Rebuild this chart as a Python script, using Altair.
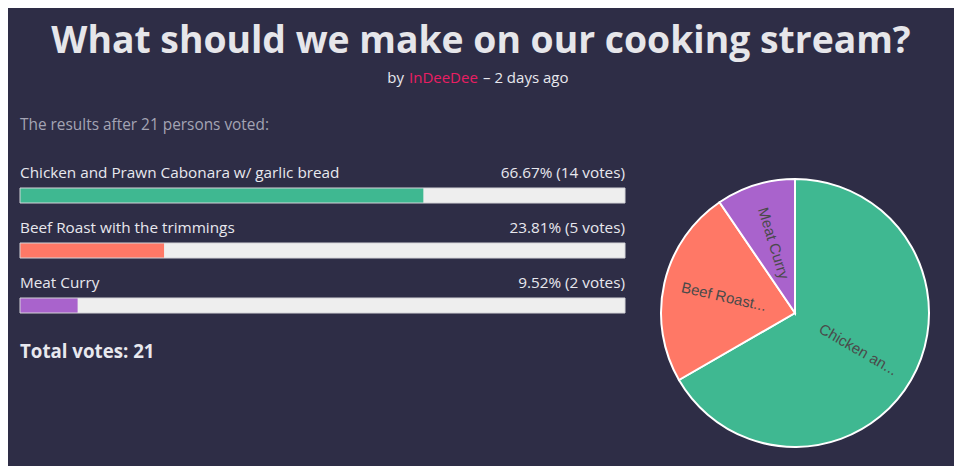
import altair as alt
import pandas as pd

# ---- data ----
options = ["Chicken and Prawn Cabonara w/ garlic bread", "Beef Roast with the trimmings", "Meat Curry"]
votes = [14, 5, 2]
colors = ["#3fb891", "#ff7866", "#a963cc"]
title_text = "What should we make on our cooking stream?"
author = "InDeeDee"
when_text = "\u2013 2 days ago"

df = pd.DataFrame({"option": options, "votes": votes, "idx": list(range(len(options)))})

BG = "#2e2d46"
FONT = "Open Sans"
TXT = "#e8e8ee"

xs = alt.Scale(domain=[0, 100], range=[12, 617])
ys = alt.Scale(domain=options, range=[180, 305], paddingInner=40 / 55, paddingOuter=0)
cs = alt.Scale(domain=options, range=colors)

base = (
    alt.Chart(df)
    .transform_joinaggregate(total="sum(votes)")
    .transform_calculate(
        pct="datum.votes / datum.total * 100",
        lo="0",
        hi="100",
        txt="format(datum.votes / datum.total * 100, '.2f') + '% (' + datum.votes + ' votes)'",
    )
)

X_lo = alt.X("lo:Q", scale=xs, axis=None)
Y_opt = alt.Y("option:N", scale=ys, axis=None, sort=None)

track = base.mark_bar(fill="#eeeeee", cornerRadius=0).encode(x=X_lo, x2="hi:Q", y=Y_opt)
fillbar = base.mark_bar(cornerRadius=0).encode(
    x=X_lo, x2="pct:Q", y=Y_opt, color=alt.Color("option:N", scale=cs, legend=None)
)
outline = base.mark_bar(fillOpacity=0, stroke="#d4d4d8", strokeWidth=1).encode(x=X_lo, x2="hi:Q", y=Y_opt)

lbl_left = base.mark_text(align="left", baseline="middle", dy=-23, fontSize=15.3, font=FONT, color=TXT).encode(
    x=X_lo, y=Y_opt, text="option:N"
)
lbl_right = base.mark_text(align="right", baseline="middle", dy=-23, fontSize=15.3, font=FONT, color=TXT).encode(
    x=alt.X("hi:Q", scale=xs, axis=None), y=Y_opt, text="txt:N"
)

results = (
    alt.Chart(df)
    .transform_aggregate(total="sum(votes)")
    .transform_calculate(t="'The results after ' + datum.total + ' persons voted:'")
    .mark_text(align="left", baseline="middle", fontSize=15.4, font=FONT, color="#a4a4b4")
    .encode(text="t:N", x=alt.value(12), y=alt.value(117))
)
total = (
    alt.Chart(df)
    .transform_aggregate(total="sum(votes)")
    .transform_calculate(t="'Total votes: ' + datum.total")
    .mark_text(align="left", baseline="middle", fontSize=18.7, fontWeight="bold", font=FONT, color=TXT)
    .encode(text="t:N", x=alt.value(12), y=alt.value(344))
)

title = (
    alt.Chart(pd.DataFrame({"t": [title_text]}))
    .mark_text(align="center", baseline="middle", fontSize=37.3, fontWeight="bold", font=FONT, color="#e6e6ea")
    .encode(text="t:N", x=alt.value(473), y=alt.value(34))
)
sub_by = (
    alt.Chart(pd.DataFrame({"t": ["by"]}))
    .mark_text(align="right", baseline="middle", fontSize=15, font=FONT, color=TXT)
    .encode(text="t:N", x=alt.value(396), y=alt.value(70))
)
sub_author = (
    alt.Chart(pd.DataFrame({"t": [author]}))
    .mark_text(align="left", baseline="middle", fontSize=15, font=FONT, color="#e91e63")
    .encode(text="t:N", x=alt.value(401), y=alt.value(70))
)
sub_when = (
    alt.Chart(pd.DataFrame({"t": [when_text]}))
    .mark_text(align="left", baseline="middle", fontSize=15, font=FONT, color=TXT)
    .encode(text="t:N", x=alt.value(475), y=alt.value(70))
)

CX, CY = 787, 305
pie = (
    alt.Chart(df)
    .mark_arc(outerRadius=134, stroke="white", strokeWidth=2)
    .encode(
        theta=alt.Theta("votes:Q", stack=True),
        color=alt.Color("option:N", scale=cs, legend=None),
        order=alt.Order("idx:Q"),
        x=alt.value(CX),
        y=alt.value(CY),
    )
)
pie_lbl = (
    alt.Chart(df)
    .transform_joinaggregate(total="sum(votes)")
    .transform_window(cum="sum(votes)", sort=[alt.SortField("idx")])
    .transform_calculate(
        mid="(datum.cum - datum.votes / 2) / datum.total * 360",
    )
    .transform_calculate(
        ang="((datum.mid < 180 ? datum.mid - 90 : datum.mid - 270) + 360) % 360",
        short="length(datum.option) > 10 ? substring(datum.option, 0, 10) + '...' : datum.option",
    )
    .mark_text(radius=73, fontSize=15, font="Liberation Sans", color="#4a4a4a", align="center", baseline="middle")
    .encode(
        theta=alt.Theta("votes:Q", stack=True),
        order=alt.Order("idx:Q"),
        text="short:N",
        angle=alt.Angle("ang:Q", scale=None),
        x=alt.value(CX),
        y=alt.value(CY),
    )
)

chart = (
    alt.layer(
        track, fillbar, outline, lbl_left, lbl_right, results, total,
        title, sub_by, sub_author, sub_when, pie, pie_lbl,
    )
    .properties(width=946, height=458, background=BG, padding=0, autosize=alt.AutoSizeParams(type="none"))
    .configure_view(strokeWidth=0)
)

chart.save("out.html", embed_options={"renderer": "svg", "actions": False})
